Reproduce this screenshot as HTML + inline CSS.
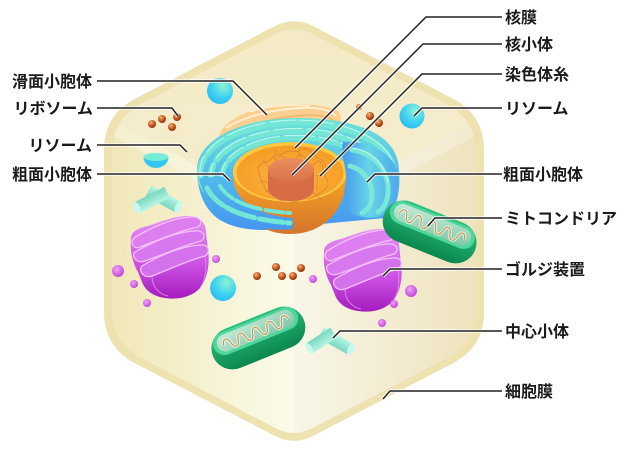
<!DOCTYPE html>
<html><head><meta charset="utf-8"><style>
html,body{margin:0;padding:0;background:#fff;}
svg{display:block;}
text{font-family:"Liberation Sans","Noto Sans CJK JP",sans-serif;font-size:16px;font-weight:bold;fill:#1b1b1b;}
</style></head><body>
<svg width="640" height="467" viewBox="0 0 640 467" xmlns="http://www.w3.org/2000/svg">
<defs>
<clipPath id="inner"><path transform="translate(294,231) scale(0.958,0.962) translate(-294,-231)" d="M274.5,26.2 Q294,16 313.5,26.2 L453,98.8 Q484,115 484,150 L484,312 Q484,347 453,363.2 L313.5,435.8 Q294,446 274.5,435.8 L135,363.2 Q104,347 104,312 L104,150 Q104,115 135,98.8 Z"/></clipPath>
<linearGradient id="gLeft" gradientUnits="userSpaceOnUse" x1="104" y1="0" x2="294" y2="0"><stop offset="0" stop-color="#f0e7b6"/><stop offset="1" stop-color="#fbfbea"/></linearGradient>
<linearGradient id="gRight" gradientUnits="userSpaceOnUse" x1="294" y1="0" x2="484" y2="0"><stop offset="0" stop-color="#f8f6e8"/><stop offset="1" stop-color="#eee2bc"/></linearGradient>
<linearGradient id="gTop" x1="0" y1="0" x2="0" y2="1"><stop offset="0" stop-color="#f3eac4"/><stop offset="1" stop-color="#f8f3dc"/></linearGradient>
<radialGradient id="gLys" cx="0.62" cy="0.3" r="0.8"><stop offset="0" stop-color="#8ff3d2"/><stop offset="0.55" stop-color="#40d2f0"/><stop offset="1" stop-color="#26b6f6"/></radialGradient>
<radialGradient id="gRib" cx="0.38" cy="0.32" r="0.7"><stop offset="0" stop-color="#f7b576"/><stop offset="0.55" stop-color="#c65c24"/><stop offset="1" stop-color="#8e2e10"/></radialGradient>
<radialGradient id="gVes" cx="0.4" cy="0.35" r="0.7"><stop offset="0" stop-color="#eea2f8"/><stop offset="1" stop-color="#c040d8"/></radialGradient>
<linearGradient id="gGolgi" x1="0" y1="0" x2="0" y2="1"><stop offset="0" stop-color="#e592f4"/><stop offset="0.55" stop-color="#cf56e6"/><stop offset="1" stop-color="#a41cbf"/></linearGradient>
<linearGradient id="gMitoBody" x1="0" y1="0" x2="0" y2="1"><stop offset="0" stop-color="#2cc07e"/><stop offset="1" stop-color="#0b874e"/></linearGradient>
<linearGradient id="gMitoIn" x1="0" y1="0" x2="1" y2="1"><stop offset="0" stop-color="#c8ecd9"/><stop offset="1" stop-color="#7fc6a6"/></linearGradient>
<linearGradient id="gCent" x1="0" y1="0" x2="0" y2="1"><stop offset="0" stop-color="#b8f4e4"/><stop offset="1" stop-color="#79d8c0"/></linearGradient>
<linearGradient id="gER" gradientUnits="userSpaceOnUse" x1="0" y1="118" x2="0" y2="230"><stop offset="0" stop-color="#6ee4d8"/><stop offset="0.5" stop-color="#52bce9"/><stop offset="1" stop-color="#4696f0"/></linearGradient>
<linearGradient id="gERr" gradientUnits="userSpaceOnUse" x1="340" y1="0" x2="398" y2="0"><stop offset="0" stop-color="#4494f0"/><stop offset="0.5" stop-color="#66d4e6"/><stop offset="1" stop-color="#4ea8ee"/></linearGradient>
<linearGradient id="gBowl" gradientUnits="userSpaceOnUse" x1="0" y1="172" x2="0" y2="234"><stop offset="0" stop-color="#f9a626"/><stop offset="1" stop-color="#d4752b"/></linearGradient>
<radialGradient id="gBowlIn" cx="0.5" cy="0.6" r="0.6"><stop offset="0" stop-color="#fbb544"/><stop offset="1" stop-color="#f59c22"/></radialGradient>
<linearGradient id="gNuc" x1="0" y1="0" x2="0" y2="1"><stop offset="0" stop-color="#ea8e60"/><stop offset="1" stop-color="#db7248"/></linearGradient>
<pattern id="dots" width="4" height="4" patternUnits="userSpaceOnUse"><circle cx="1" cy="1" r="0.45" fill="#e2aa8c"/><circle cx="3" cy="3" r="0.35" fill="#e8c0a0"/></pattern>
<g id="mito">
 <rect x="-49" y="-20" width="98" height="42" rx="21" fill="url(#gMitoBody)"/>
 <rect x="-45" y="-18" width="90" height="23" rx="11.5" fill="#4fd69a"/>
 <rect x="-41" y="-15.5" width="82" height="17.5" rx="8.75" fill="url(#gMitoIn)"/>
 <path d="M-35,-5 c1.5,-7 6.3,-7 7.8,0 c1.5,7 6.3,7 7.8,0 c1.5,-7 6.3,-7 7.8,0 c1.5,7 6.3,7 7.8,0 c1.5,-7 6.3,-7 7.8,0 c1.5,7 6.3,7 7.8,0 c1.5,-7 6.3,-7 7.8,0 c1.5,7 6.3,7 7.8,0 c1.5,-7 6.3,-7 7.8,0" fill="none" stroke="#e8f8ef" stroke-width="3.2" stroke-opacity="0.8"/>
 <path d="M-35,-5 c1.5,-7 6.3,-7 7.8,0 c1.5,7 6.3,7 7.8,0 c1.5,-7 6.3,-7 7.8,0 c1.5,7 6.3,7 7.8,0 c1.5,-7 6.3,-7 7.8,0 c1.5,7 6.3,7 7.8,0 c1.5,-7 6.3,-7 7.8,0 c1.5,7 6.3,7 7.8,0 c1.5,-7 6.3,-7 7.8,0" fill="none" stroke="#cf8a40" stroke-width="1"/>
</g>
<g id="cyl">
 <rect x="-17" y="-6" width="34" height="12" fill="url(#gCent)"/>
 <ellipse cx="17" cy="0" rx="3.2" ry="6" fill="#c9f7ec"/>
</g>
<g id="golgi">
 <path d="M131,240 C130,232 138,228 148,226 C160,222 172,217 185,216 C198,215 206,222 206,232 L208,250 C210,262 208,278 200,288 C192,297 178,300 165,298 C152,296 145,290 142,282 L138,272 C132,262 130,250 131,240 Z" fill="url(#gGolgi)"/>
 <path d="M134,238 C150,228 172,218 190,217 C200,216 204,222 198,227 C182,230 158,240 140,247 C133,250 130,242 134,238 Z" fill="#dc7ef0" stroke="#f3c0fa" stroke-width="1.3"/>
 <path d="M135,252 C152,242 176,232 194,231 C204,230 207,237 201,241 C185,245 162,255 145,261 C136,264 131,256 135,252 Z" fill="#d878ee" stroke="#f3c0fa" stroke-width="1.3"/>
 <path d="M142,266 C158,256 182,246 200,245 C209,244 211,252 205,256 C189,260 168,270 152,276 C143,279 138,270 142,266 Z" fill="#d472ec" stroke="#f3c0fa" stroke-width="1.3"/>
 <path d="M152,276 C152,286 158,294 168,296" fill="none" stroke="#eeaaf6" stroke-width="1" opacity="0.7"/>
 <path d="M205,256 C207,266 206,280 200,288" fill="none" stroke="#eeaaf6" stroke-width="1" opacity="0.6"/>
</g>
</defs>

<!-- Cell -->
<path d="M274.5,26.2 Q294,16 313.5,26.2 L453,98.8 Q484,115 484,150 L484,312 Q484,347 453,363.2 L313.5,435.8 Q294,446 274.5,435.8 L135,363.2 Q104,347 104,312 L104,150 Q104,115 135,98.8 Z" fill="#ede2b0"/>
<g clip-path="url(#inner)">
 <rect x="90" y="0" width="410" height="467" fill="url(#gTop)"/>
 <polygon points="90,108 294,218 294,467 90,467" fill="url(#gLeft)"/>
 <polygon points="294,218 498,108 498,467 294,467" fill="url(#gRight)"/>
 <polygon points="90,108 294,218 294,232 90,124" fill="#ffffff" opacity="0.3"/>
 <polygon points="294,218 498,108 498,124 294,232" fill="#ffffff" opacity="0.25"/>
</g>

<!-- speckles -->
<ellipse cx="203" cy="185" rx="24" ry="48" fill="url(#dots)" opacity="0.35"/>

<!-- Smooth ER -->
<path d="M218,140 C220,124 240,112 268,107 C292,103 318,103 336,110 C343,114 342,126 336,132 L230,142 Z" fill="#fdcf8e"/>
<path d="M226,128 C245,116 270,110 300,108 C318,107 330,110 336,116" fill="none" stroke="#fff0d4" stroke-width="2"/>
<path d="M233,134 C255,122 280,116 310,115 C322,115 332,118 338,124" fill="none" stroke="#f4b066" stroke-width="1.2"/>
<path d="M250,112 C265,106 290,104 310,106" fill="none" stroke="#fff0d4" stroke-width="1.6"/>

<!-- Rough ER back -->
<path d="M197,170 C197,140 240,118 297,118 C352,118 392,132 398,162 C402,185 398,210 385,218 L300,226 C270,232 240,232 220,220 C204,210 197,190 197,170 Z" fill="url(#gER)"/>
<g fill="none" stroke-linecap="round">
 <path d="M205.5,190.4 A97,51 0 1 1 388.5,190.4" stroke="#74e6d6" stroke-width="6" stroke-dasharray="34 5 22 4 40 5 26 4"/>
 <path d="M205.5,188 A97,51 0 1 1 388.5,188" stroke="#c2f8ee" stroke-width="1" stroke-dasharray="34 5 22 4 40 5 26 4"/>
 <path d="M216.5,191.7 A86,45 0 1 1 377.5,191.7" stroke="#74e6d6" stroke-width="6" stroke-dasharray="28 6 36 4 20 5"/>
 <path d="M216.5,189.3 A86,45 0 1 1 377.5,189.3" stroke="#c2f8ee" stroke-width="1" stroke-dasharray="28 6 36 4 20 5"/>
 <path d="M228.1,192 A75,39 0 1 1 365.9,192" stroke="#74e6d6" stroke-width="5.5" stroke-dasharray="30 5 18 4 34 5"/>
 <path d="M228.1,189.6 A75,39 0 1 1 365.9,189.6" stroke="#c2f8ee" stroke-width="1" stroke-dasharray="30 5 18 4 34 5"/>
</g>

<!-- Nucleus -->
<path d="M233,172 C233,212 258,234 290,234 C322,234 347,212 347,172 Z" fill="url(#gBowl)"/>
<ellipse cx="290" cy="172" rx="57" ry="30" fill="#ffc843"/>
<ellipse cx="290" cy="173" rx="53.5" ry="27.5" fill="url(#gBowlIn)"/>
<g fill="none" stroke="#de7c3a" stroke-width="0.8" opacity="0.85">
 <path d="M258,168 c4,-8 10,-4 14,-10 c4,-6 10,-2 14,-6 c5,-3 9,2 14,-2 c5,-4 10,0 13,4 c4,5 10,4 12,10 c2,6 -2,10 2,16 c3,5 -1,10 -6,12 c-5,3 -8,8 -14,7 c-6,-1 -10,4 -16,2 c-6,-2 -10,2 -14,-3 c-4,-5 -10,-4 -12,-10 c-2,-6 -6,-10 -7,-20 z"/>
 <path d="M262,160 c6,2 4,10 10,8 c5,-2 2,-10 8,-12 c6,-1 5,8 11,7 c6,-1 4,-9 10,-8 c6,1 3,9 9,10 c6,1 6,-7 11,-3 c4,4 -2,9 3,13"/>
 <path d="M260,182 c5,-3 8,4 13,2 c5,-2 3,8 9,9 c6,1 6,-6 12,-3 c5,3 3,9 9,8 c6,-1 6,-7 11,-5 c4,2 4,7 9,5"/>
 <path d="M266,192 c3,-6 9,-2 12,-7 M318,190 c-4,-6 2,-10 -2,-16 M300,150 c-3,5 4,8 0,12 M275,150 c2,5 -3,8 1,12"/>
</g>
<path d="M268,170 L268,188 C268,196 279,201 291,201 C303,201 314,196 314,188 L314,170 Z" fill="#d86c44"/>
<ellipse cx="291" cy="170" rx="23" ry="12" fill="url(#gNuc)"/>

<!-- Rough ER front pieces -->
<path d="M199,178 C203,200 222,220 255,227 C270,230 283,230 293,229 L293,218 C275,217 256,212 243,200 C236,193 233,184 233,176 Z" fill="url(#gER)"/>
<path d="M207,188 C216,206 240,219 290,223" fill="none" stroke="#74e6d6" stroke-width="5" stroke-dasharray="24 4 30 5" stroke-linecap="round"/>
<path d="M220,186 C228,199 247,210 290,213" fill="none" stroke="#74e6d6" stroke-width="4" stroke-dasharray="18 4 26 5" stroke-linecap="round"/>
<path d="M343,142 C365,140 390,150 397,170 C401,190 396,208 382,216 C368,220 354,217 347,210 C343,200 344,190 346,180 C347,168 340,155 343,142 Z" fill="url(#gERr)"/>
<path d="M352,150 C370,152 385,165 388,185 C389,198 385,208 378,212" fill="none" stroke="#7ae8d8" stroke-width="5" stroke-linecap="round"/>
<path d="M350,166 C362,169 372,180 372,195 C372,204 368,210 362,213" fill="none" stroke="#7ae8d8" stroke-width="5" stroke-linecap="round"/>
<path d="M352,148 C370,150 385,163 388,183" fill="none" stroke="#c2f8ee" stroke-width="1"/>

<!-- Lysosomes -->
<circle cx="220" cy="91" r="13" fill="url(#gLys)"/>
<circle cx="412" cy="116" r="12.5" fill="url(#gLys)"/>
<circle cx="223" cy="288" r="13" fill="url(#gLys)"/>
<path d="M143.5,157 A12.5,11 0 0 0 168.5,157 Z" fill="#34c6f2"/>
<ellipse cx="156" cy="157" rx="12.5" ry="4" fill="#74ecd6"/>

<!-- Ribosomes -->
<g fill="url(#gRib)">
 <circle cx="152" cy="124" r="4"/><circle cx="162" cy="119" r="4"/><circle cx="172" cy="127" r="4"/><circle cx="177" cy="117" r="4"/>
 <circle cx="359" cy="107" r="3"/><circle cx="370" cy="116" r="4"/><circle cx="379" cy="123" r="4"/>
 <circle cx="257" cy="276" r="4"/><circle cx="276" cy="267" r="4"/><circle cx="282" cy="276" r="4"/><circle cx="293" cy="276" r="4"/><circle cx="301" cy="268" r="4"/>
</g>

<!-- Centrioles -->
<use href="#cyl" transform="translate(163.5,199) rotate(29)"/>
<use href="#cyl" transform="translate(152,200) rotate(153)"/>
<use href="#cyl" transform="translate(336,341) rotate(29)"/>
<use href="#cyl" transform="translate(321.5,340.5) rotate(147) scale(0.85,1)"/>

<!-- Golgi -->
<use href="#golgi"/>
<use href="#golgi" transform="translate(193,13)"/>

<!-- Vesicles -->
<g fill="url(#gVes)">
 <circle cx="118" cy="271" r="6"/><circle cx="134" cy="284" r="4"/><circle cx="147" cy="303" r="4"/><circle cx="216" cy="259" r="4"/>
 <circle cx="313" cy="279" r="4"/><circle cx="411" cy="291" r="6"/><circle cx="394" cy="304" r="4"/><circle cx="382" cy="323" r="4"/>
</g>

<!-- Mitochondria -->
<use href="#mito" transform="translate(430,231) rotate(22)"/>
<use href="#mito" transform="translate(258,337) rotate(-22)"/>

<!-- Leader lines -->
<g fill="none" stroke="#ffffff" stroke-width="3.4" stroke-opacity="0.85">
 <path d="M97,81 H233 L267,115"/><path d="M97,108 H172 L178,116"/><path d="M97,145 H180 L187,152"/><path d="M97,174 H223 L230,181"/>
 <path d="M502,17 H426 L295,148"/><path d="M502,44 H423 L292,175"/><path d="M502,74 H422 L320,176"/><path d="M502,108 H422 L414,116"/>
 <path d="M502,174 H375 L367,182"/><path d="M502,218 H435 L428,226"/><path d="M502,269 H390 L383,276"/><path d="M502,331 H340 L333,338"/><path d="M502,391 H390 L383,399"/>
</g>
<g fill="none" stroke="#222" stroke-width="1.5">
 <path d="M97,81 H233 L267,115"/><path d="M97,108 H172 L178,116"/><path d="M97,145 H180 L187,152"/><path d="M97,174 H223 L230,181"/>
 <path d="M502,17 H426 L295,148"/><path d="M502,44 H423 L292,175"/><path d="M502,74 H422 L320,176"/><path d="M502,108 H422 L414,116"/>
 <path d="M502,174 H375 L367,182"/><path d="M502,218 H435 L428,226"/><path d="M502,269 H390 L383,276"/><path d="M502,331 H340 L333,338"/><path d="M502,391 H390 L383,399"/>
</g>

<!-- Labels -->
<g text-anchor="end">
 <text x="92" y="87">滑面小胞体</text>
 <text x="93" y="114">リボソーム</text>
 <text x="92" y="151">リソーム</text>
 <text x="92" y="180">粗面小胞体</text>
</g>
<g>
 <text x="505" y="23">核膜</text>
 <text x="505" y="50">核小体</text>
 <text x="505" y="80">染色体糸</text>
 <text x="505" y="114">リソーム</text>
 <text x="503" y="180">粗面小胞体</text>
 <text x="505" y="224">ミトコンドリア</text>
 <text x="505" y="275">ゴルジ装置</text>
 <text x="505" y="337">中心小体</text>
 <text x="505" y="397">細胞膜</text>
</g>
</svg>
</body></html>
